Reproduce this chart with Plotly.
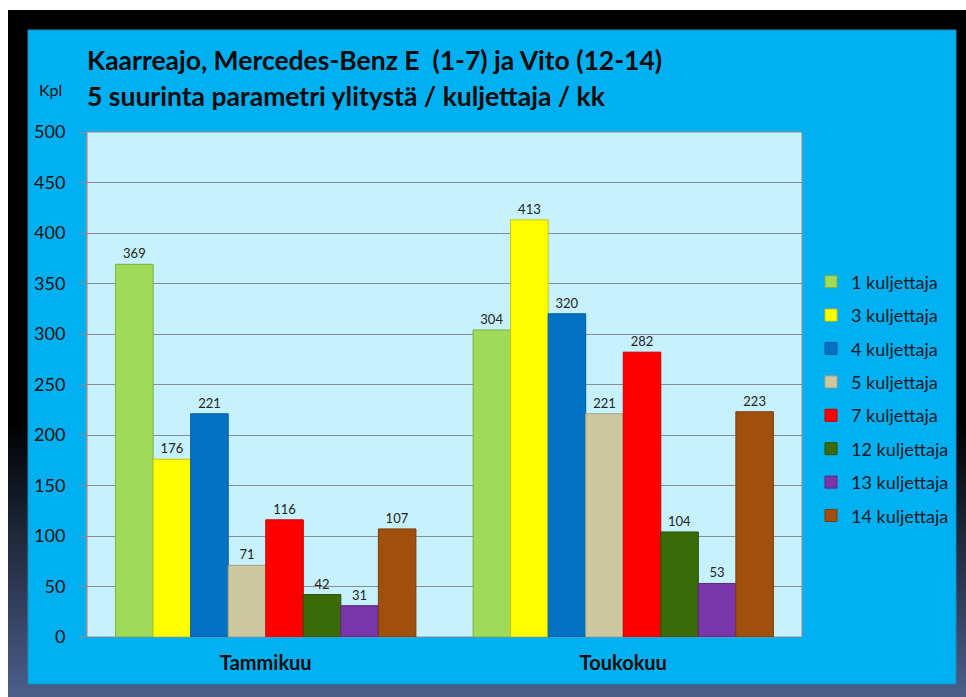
import plotly.graph_objects as go

categories = ["Tammikuu", "Toukokuu"]
series_names = ["1 kuljettaja", "3 kuljettaja", "4 kuljettaja", "5 kuljettaja",
                "7 kuljettaja", "12 kuljettaja", "13 kuljettaja", "14 kuljettaja"]
values_1 = [369, 304]
values_3 = [176, 413]
values_4 = [221, 320]
values_5 = [71, 221]
values_7 = [116, 282]
values_12 = [42, 104]
values_13 = [31, 53]
values_14 = [107, 223]
series_values = [values_1, values_3, values_4, values_5, values_7, values_12, values_13, values_14]
colors = ["#9FDB58", "#FFFF00", "#0472C4", "#CEC8A2", "#FF0000", "#3A6B08", "#7A36A8", "#A0500C"]
edges = ["#7FB040", "#C8C800", "#035A9C", "#A8A280", "#C80000", "#2A5006", "#5C2880", "#7A3C08"]
y_ticks = [0, 50, 100, 150, 200, 250, 300, 350, 400, 450, 500]

W, H = 966, 697
L, R, T, B = 87, 802, 132, 637
pw, ph = R - L, B - T


def px(x):
    return (x - L) / pw


def py(y):
    return (B - y) / ph


fig = go.Figure()
for name, vals, col, ec in zip(series_names, series_values, colors, edges):
    fig.add_trace(go.Bar(
        name=name, x=categories, y=vals,
        marker=dict(color=col, line=dict(color=ec, width=1)),
        text=[str(v) for v in vals], textposition="outside",
        textfont=dict(size=13, color="#222222", family="Lato"),
        legendgroup=name, cliponaxis=False,
    ))

shapes = []
shapes.append(dict(type="rect", xref="paper", yref="paper", x0=px(0), x1=px(W), y0=py(H), y1=py(0),
                   fillcolor="white", line_width=0, layer="below"))
top_y, grad_start, bot_y = 10, 420, 697
shapes.append(dict(type="rect", xref="paper", yref="paper", x0=px(8), x1=px(W), y0=py(grad_start + 2),
                   y1=py(top_y), fillcolor="black", line_width=0, layer="below"))
n = 40
c0 = (0, 0, 0)
c1 = (76, 96, 140)
for i in range(n):
    ya = grad_start + (bot_y - grad_start) * i / n
    yb = grad_start + (bot_y - grad_start) * (i + 1) / n + 2
    t = (i + 0.5) / n
    c = tuple(int(c0[k] + (c1[k] - c0[k]) * t) for k in range(3))
    shapes.append(dict(type="rect", xref="paper", yref="paper", x0=px(8), x1=px(W), y0=py(min(yb, H)),
                       y1=py(ya), fillcolor="rgb(%d,%d,%d)" % c, line_width=0, layer="below"))
shapes.append(dict(type="rect", xref="paper", yref="paper", x0=px(28), x1=px(956), y0=py(684), y1=py(30),
                   fillcolor="#00B0F0", line=dict(color="#1A8CC0", width=1), layer="below"))
shapes.append(dict(type="rect", xref="paper", yref="paper", x0=0, x1=1, y0=0, y1=1,
                   fillcolor="#C6F1FE", line=dict(color="#8C8C8C", width=1), layer="below"))
fig.update_layout(shapes=shapes)

fig.update_layout(
    width=W, height=H,
    margin=dict(l=L, r=W - R, t=T, b=H - B, pad=0),
    paper_bgcolor="white",
    plot_bgcolor="#C6F1FE",
    barmode="group", bargap=0.16, bargroupgap=0,
    font=dict(family="Lato", color="#111111"),
    showlegend=True,
    legend=dict(x=px(811), xanchor="left", y=py(399), yanchor="middle",
                font=dict(size=18, color="#0A1A28", family="Lato"),
                bgcolor="rgba(0,0,0,0)", tracegroupgap=7, traceorder="grouped",
                itemwidth=30),
    xaxis=dict(showgrid=False, showline=False, ticks="", ticklabelstandoff=12,
               tickfont=dict(size=20, family="Lato", weight="bold", color="#0A0A0A")),
    yaxis=dict(range=[0, 500], tickvals=y_ticks, showgrid=True, gridcolor="#8C8C8C", gridwidth=1,
               showline=True, linecolor="#8C8C8C", ticks="outside", ticklen=7, tickcolor="#8C8C8C",
               ticklabelstandoff=10,
               tickfont=dict(size=18, family="Lato", color="#111111"), zeroline=False),
    annotations=[
        dict(text="<b>Kaarreajo, Mercedes-Benz E  (1-7) ja Vito (12-14)</b>", xref="paper", yref="paper",
             x=px(85), y=py(60), xanchor="left", yanchor="middle", showarrow=False,
             font=dict(size=26.5, family="Lato", color="#0A0A0A")),
        dict(text="<b>5 suurinta parametri ylitystä / kuljettaja / kk</b>", xref="paper", yref="paper",
             x=px(85), y=py(96), xanchor="left", yanchor="middle", showarrow=False,
             font=dict(size=26.5, family="Lato", color="#0A0A0A")),
        dict(text="Kpl", xref="paper", yref="paper", x=px(50), y=py(90), xanchor="center", yanchor="middle",
             showarrow=False, font=dict(size=16, family="Lato", color="#111111")),
    ],
)

fig.write_html("out.html")
